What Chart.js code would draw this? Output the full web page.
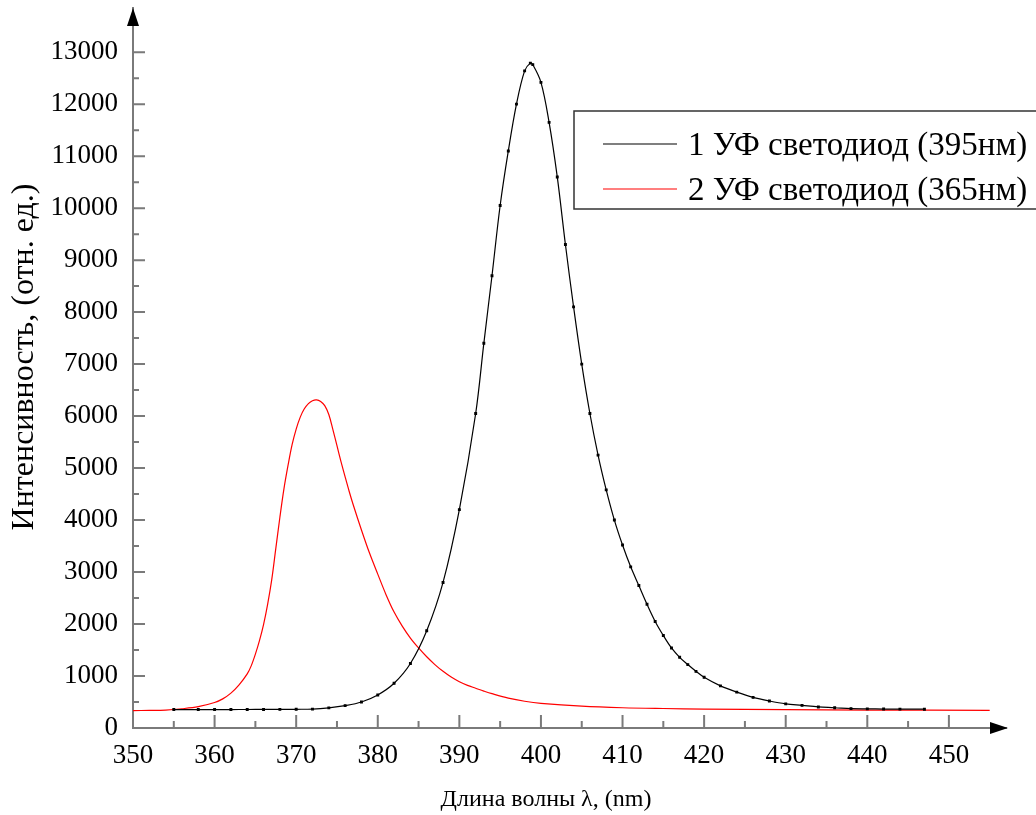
<!DOCTYPE html>
<html>
<head>
<meta charset="utf-8">
<script src="https://cdn.jsdelivr.net/npm/chart.js@4/dist/chart.umd.min.js"></script>
<style>
  html, body { margin: 0; padding: 0; background: #fff; }
  #wrap { width: 1036px; height: 815px; }
</style>
</head>
<body>
<div id="wrap"><canvas id="myChart" width="1036" height="815"></canvas></div>
<script>
// spectrum 1: UV LED 395 nm (black)
var wl1 = [355, 358, 360, 362, 364, 366, 368, 370, 372, 374, 376, 378, 380, 382, 384, 386, 388, 390, 392, 393, 394, 395, 396, 397, 398, 398.7, 399, 400, 401, 402, 403, 404, 405, 406, 407, 408, 409, 410, 411, 412, 413, 414, 415, 416, 417, 418, 419, 420, 422, 424, 426, 428, 430, 432, 434, 436, 438, 440, 442, 444, 447];
var int1 = [355, 355, 355, 355, 356, 357, 358, 360, 364, 388, 430, 500, 635, 860, 1240, 1870, 2800, 4200, 6050, 7400, 8700, 10050, 11100, 12000, 12640, 12790, 12760, 12420, 11650, 10600, 9300, 8100, 7000, 6050, 5250, 4580, 4000, 3520, 3100, 2740, 2380, 2050, 1780, 1540, 1360, 1220, 1090, 975, 810, 690, 590, 520, 465, 435, 405, 390, 372, 368, 365, 363, 362];

// spectrum 2: UV LED 365 nm (red)
var wl2 = [350, 352, 354, 356, 358, 360, 361, 362, 363, 364, 364.5, 365, 365.5, 366, 366.5, 367, 367.5, 368, 368.5, 369, 369.5, 370, 370.5, 371, 371.5, 372, 372.5, 373, 373.5, 374, 374.5, 375, 375.5, 376, 376.5, 377, 378, 379, 380, 381, 382, 383, 384, 385, 386, 387, 388, 389, 390, 391, 392, 393, 394, 396, 398, 400, 405, 410, 415, 420, 430, 440, 455];
var int2 = [335, 338, 345, 370, 410, 490, 560, 670, 830, 1040, 1200, 1420, 1680, 1990, 2380, 2850, 3450, 4050, 4600, 5050, 5450, 5750, 5980, 6140, 6240, 6295, 6310, 6280, 6200, 6030, 5740, 5430, 5120, 4830, 4550, 4290, 3810, 3360, 2960, 2570, 2230, 1960, 1730, 1540, 1370, 1220, 1090, 980, 890, 820, 765, 710, 660, 575, 515, 475, 420, 390, 375, 365, 352, 345, 340];

var seriesLabels = ['1 УФ светодиод (395нм)', '2 УФ светодиод (365нм)'];
var seriesColors = ['#000000', '#ff0000'];

var xTicks = [350, 360, 370, 380, 390, 400, 410, 420, 430, 440, 450];
var yTicks = [0, 1000, 2000, 3000, 4000, 5000, 6000, 7000, 8000, 9000, 10000, 11000, 12000, 13000];
var xTitle = 'Длина волны λ, (nm)';
var yTitle = 'Интенсивность, (отн. ед.)';

var serif = '"Liberation Serif", "Times New Roman", serif';
var axisGrey = '#7a7a7a';

function toPoints(xs, ys) {
  return xs.map(function (v, i) { return { x: v, y: ys[i] }; });
}

// inward ticks, minor ticks, arrows, axis titles, legend box
var decorPlugin = {
  id: 'decor',
  afterDraw: function (chart) {
    var ctx = chart.ctx;
    var xs = chart.scales.x, ys = chart.scales.y;
    var area = chart.chartArea;
    ctx.save();
    ctx.strokeStyle = axisGrey;
    ctx.lineWidth = 2;
    ctx.beginPath();
    for (var i = 0; i < xTicks.length; i++) {
      var px = xs.getPixelForValue(xTicks[i]);
      ctx.moveTo(px, area.bottom); ctx.lineTo(px, area.bottom - 13);
      if (i < xTicks.length - 1) {
        var pm = xs.getPixelForValue((xTicks[i] + xTicks[i + 1]) / 2);
        ctx.moveTo(pm, area.bottom); ctx.lineTo(pm, area.bottom - 7);
      }
    }
    for (var j = 0; j < yTicks.length; j++) {
      var py = ys.getPixelForValue(yTicks[j]);
      ctx.moveTo(area.left, py); ctx.lineTo(area.left + 12, py);
      if (j < yTicks.length - 1) {
        var qm = ys.getPixelForValue((yTicks[j] + yTicks[j + 1]) / 2);
        ctx.moveTo(area.left, qm); ctx.lineTo(area.left + 6, qm);
      }
    }
    ctx.stroke();

    // arrow heads
    ctx.fillStyle = '#000';
    ctx.beginPath();
    ctx.moveTo(area.left, area.top);
    ctx.lineTo(area.left - 6, area.top + 18);
    ctx.lineTo(area.left + 6, area.top + 18);
    ctx.closePath();
    ctx.fill();
    ctx.beginPath();
    ctx.moveTo(area.right + 2, area.bottom);
    ctx.lineTo(area.right - 16, area.bottom - 6);
    ctx.lineTo(area.right - 16, area.bottom + 6);
    ctx.closePath();
    ctx.fill();

    // axis titles
    ctx.fillStyle = '#000';
    ctx.textAlign = 'center';
    ctx.textBaseline = 'middle';
    ctx.font = '24px ' + serif;
    ctx.fillText(xTitle, 546, 800);
    ctx.save();
    ctx.font = '32px ' + serif;
    ctx.translate(25, 357);
    ctx.rotate(-Math.PI / 2);
    ctx.fillText(yTitle, 0, 0);
    ctx.restore();

    // legend
    var bx = 574, by = 111, bw = 480, bh = 98;
    ctx.fillStyle = '#fff';
    ctx.fillRect(bx, by, bw, bh);
    ctx.strokeStyle = '#333';
    ctx.lineWidth = 1.5;
    ctx.strokeRect(bx, by, bw, bh);
    ctx.font = '33px ' + serif;
    ctx.textAlign = 'left';
    ctx.textBaseline = 'middle';
    chart.data.datasets.forEach(function (ds, k) {
      var ly = 145 + k * 45;
      ctx.strokeStyle = ds.borderColor;
      ctx.lineWidth = 1.2;
      ctx.beginPath();
      ctx.moveTo(603, ly - 1); ctx.lineTo(677, ly - 1);
      ctx.stroke();
      ctx.fillStyle = '#000';
      ctx.fillText(ds.label, 688, ly + 1);
    });
    ctx.restore();
  }
};

function noPad(scale) {
  scale.paddingTop = 0;
  scale.paddingBottom = 0;
  scale.paddingLeft = 0;
  scale.paddingRight = 0;
}

var ctxChart = document.getElementById('myChart').getContext('2d');
var chart = new Chart(ctxChart, {
  type: 'line',
  data: {
    datasets: [{
      label: seriesLabels[0],
      data: toPoints(wl1, int1),
      borderColor: seriesColors[0],
      backgroundColor: seriesColors[0],
      borderWidth: 1.2,
      pointRadius: 1.2,
      pointStyle: 'rect',
      tension: 0.35,
      fill: false
    }, {
      label: seriesLabels[1],
      data: toPoints(wl2, int2),
      borderColor: seriesColors[1],
      backgroundColor: seriesColors[1],
      borderWidth: 1.2,
      pointRadius: 0,
      tension: 0.35,
      fill: false
    }]
  },
  options: {
    responsive: false,
    animation: false,
    layout: { padding: { top: 8, right: 30, left: 0, bottom: 0 } },
    plugins: {
      legend: { display: false },
      tooltip: { enabled: false }
    },
    scales: {
      x: {
        type: 'linear',
        min: 350,
        max: 457,
        afterBuildTicks: function (scale) {
          scale.ticks = xTicks.map(function (v) { return { value: v }; });
        },
        afterFit: function (scale) { scale.height = 87; noPad(scale); },
        grid: { display: false, drawTicks: false },
        border: { display: true, color: axisGrey, width: 2 },
        ticks: {
          color: '#000',
          font: { family: serif, size: 27 },
          padding: 12,
          maxRotation: 0,
          autoSkip: false,
          callback: function (v) { return String(v); }
        }
      },
      y: {
        type: 'linear',
        min: 0,
        max: 13850,
        afterBuildTicks: function (scale) {
          scale.ticks = yTicks.map(function (v) { return { value: v }; });
        },
        afterFit: function (scale) { scale.width = 133; noPad(scale); },
        grid: { display: false, drawTicks: false },
        border: { display: true, color: axisGrey, width: 2 },
        ticks: {
          color: '#000',
          font: { family: serif, size: 27 },
          padding: 15,
          autoSkip: false,
          callback: function (v) { return String(v); }
        }
      }
    }
  },
  plugins: [decorPlugin]
});
</script>
</body>
</html>
